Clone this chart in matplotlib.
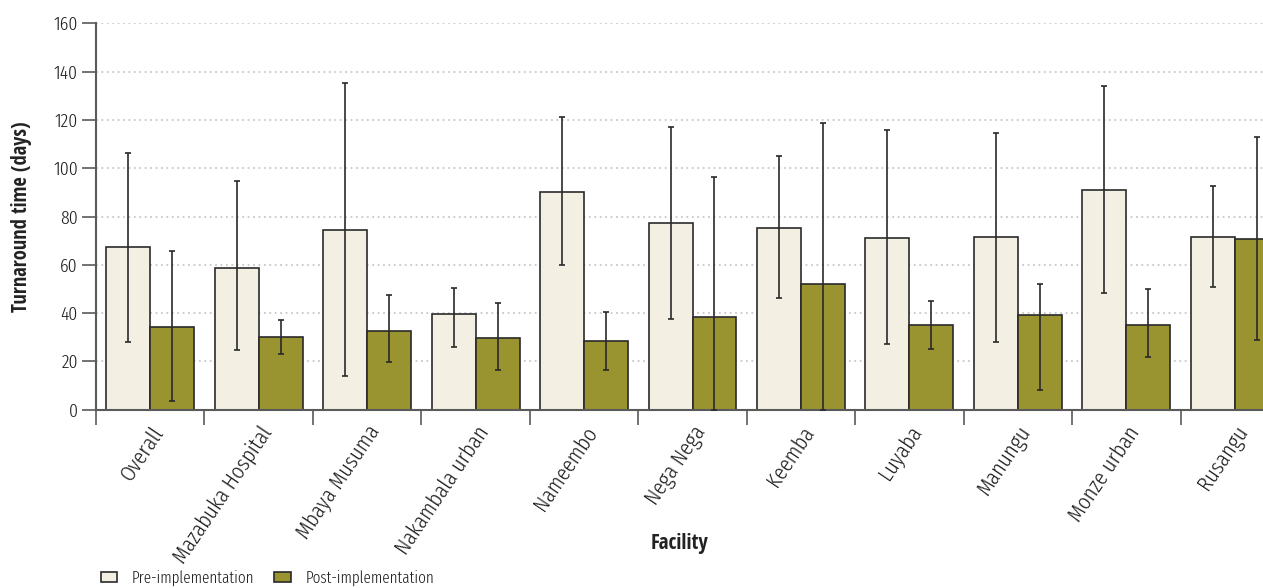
import matplotlib
matplotlib.use("Agg")
import matplotlib.pyplot as plt
from matplotlib.patches import Patch
from matplotlib import font_manager
from matplotlib.textpath import TextPath
from matplotlib.font_manager import FontProperties
import numpy as np

facilities = ["Overall", "Mazabuka Hospital", "Mbaya Musuma", "Nakambala urban",
              "Nameembo", "Nega Nega", "Keemba", "Luyaba", "Manungu",
              "Monze urban", "Rusangu"]
pre_mean = [67.2, 58.8, 74.4, 39.8, 90.3, 77.2, 75.4, 71.1, 71.5, 90.9, 71.5]
pre_upper = [106.5, 94.6, 135.4, 50.4, 121.1, 117.2, 104.9, 115.9, 114.6, 134.0, 92.8]
pre_lower = [28.2, 24.7, 14.0, 26.0, 60.0, 37.7, 46.3, 27.1, 28.0, 48.4, 50.8]
post_mean = [34.4, 30.0, 32.6, 29.6, 28.3, 38.4, 51.9, 34.9, 39.3, 35.2, 70.5]
post_upper = [65.8, 37.3, 47.5, 44.3, 40.6, 96.5, 118.8, 45.0, 51.9, 50.1, 112.9]
post_lower = [3.8, 23.2, 19.6, 16.6, 16.6, 0.0, 0.0, 25.3, 8.3, 21.9, 28.9]
yticks = [0, 20, 40, 60, 80, 100, 120, 140, 160]
legend_labels = ["Pre-implementation", "Post-implementation"]

# ---- font selection ----
fonts = font_manager.fontManager.ttflist
def weights(fam):
    out = set()
    for f in fonts:
        if f.name == fam:
            w = f.weight
            if isinstance(w, str):
                w = font_manager.weight_dict.get(w, 400)
            out.add(w)
    return out

light_fam, light_w = None, None
for fam in ['Open Sans Condensed', 'Fira Sans Extra Condensed', 'Fira Sans Condensed',
            'Sofia Sans Condensed', 'Encode Sans Condensed', 'Barlow Semi Condensed']:
    ws = weights(fam)
    lw = [w for w in ws if 300 <= w <= 350]
    if lw:
        light_fam, light_w = fam, min(lw)
        break
if light_fam is None:
    light_fam, light_w = 'PT Sans Narrow', 400

bold_fam = 'Open Sans Condensed' if any(w >= 600 for w in weights('Open Sans Condensed')) else 'PT Sans Narrow'
LF = [light_fam, 'DejaVu Sans']
BF = [bold_fam, 'DejaVu Sans']

pre_color = "#F3F0E3"
post_color = "#9A9430"
edge = "#2a2a2a"
axis_color = "#5a5a5a"
text_color = "#1e1e1e"

W, H = 1263, 588
fig = plt.figure(figsize=(W / 100, H / 100), dpi=100)
renderer = fig.canvas.get_renderer()

def fit_size(s, target_px, family, weight):
    t = fig.text(0, 0, s, fontsize=10, family=family, weight=weight)
    w = t.get_window_extent(renderer).width
    t.remove()
    return 10 * target_px / w

def fit_height(s, target_px, family, weight):
    fp = FontProperties(family=family, weight=weight, size=10)
    p = TextPath((0, 0), s, prop=fp)
    ext = p.get_extents()
    h_px = ext.height * 100 / 72
    return 10 * target_px / h_px

tick_fs = fit_size("Mazabuka Hospital", 160, LF, light_w)
ytick_fs = fit_height("160", 13.3, LF, light_w)
leg_fs = fit_size("Pre-implementation", 122, LF, light_w)
ylab_fs = fit_size("Turnaround time (days)", 191, BF, 'bold')
xlab_fs = fit_size("Facility", 58, BF, 'bold')

left = 96 / W
bottom = 1 - 409.7 / H
top = 1 - 23.3 / H
right = 1289 / W
ax = fig.add_axes([left, bottom, right - left, top - bottom])

x = np.arange(len(facilities))
bw = 0.405
pre_err = [np.array(pre_mean) - np.array(pre_lower), np.array(pre_upper) - np.array(pre_mean)]
post_err = [np.array(post_mean) - np.array(post_lower), np.array(post_upper) - np.array(post_mean)]

ax.bar(x - bw / 2, pre_mean, width=bw, color=pre_color, edgecolor=edge, linewidth=1.2, zorder=2)
ax.bar(x + bw / 2, post_mean, width=bw, color=post_color, edgecolor=edge, linewidth=1.2, zorder=2)
ax.errorbar(x - bw / 2, pre_mean, yerr=pre_err, fmt='none', ecolor=edge, elinewidth=1.2,
            capsize=2.2, capthick=1.2, zorder=3)
ax.errorbar(x + bw / 2, post_mean, yerr=post_err, fmt='none', ecolor=edge, elinewidth=1.2,
            capsize=2.2, capthick=1.2, zorder=3)

ax.set_xlim(-0.5, len(facilities) - 0.5)
ax.set_ylim(0, 160)
ax.set_yticks(yticks)
ax.set_yticklabels([str(t) for t in yticks], family=LF, weight=light_w, fontsize=ytick_fs,
                   color=text_color)
for t in yticks[1:]:
    ax.axhline(t, color="#c8c8c8", linestyle=(0, (1, 2)), linewidth=1.3, zorder=1)

ax.set_xticks(np.arange(len(facilities) + 1) - 0.5)
ax.set_xticklabels([])
ax.set_xticks(x, minor=True)
ax.set_xticklabels(facilities, minor=True, rotation=56, ha='right',
                   rotation_mode='anchor', fontsize=tick_fs, color=text_color,
                   family=LF, weight=light_w)
ax.tick_params(axis='x', which='minor', length=0, pad=9)
ax.tick_params(axis='x', which='major', length=11, width=1.2, color=axis_color, direction='out')
ax.tick_params(axis='y', length=10, width=1.2, color=axis_color, direction='out', pad=3)

for s in ['top', 'right']:
    ax.spines[s].set_visible(False)
for s in ['left', 'bottom']:
    ax.spines[s].set_color(axis_color)
    ax.spines[s].set_linewidth(1.5)
ax.set_axisbelow(True)

fig.text(22 / W, 1 - 217 / H, "Turnaround time (days)", rotation=90, ha='center', va='center',
         fontsize=ylab_fs, fontweight='bold', family=BF, color="#222222")
fig.text(680 / W, 1 - 543 / H, "Facility", ha='center', va='center',
         fontsize=xlab_fs, fontweight='bold', family=BF, color="#222222")

handles = [Patch(facecolor=pre_color, edgecolor=edge, linewidth=1.2),
           Patch(facecolor=post_color, edgecolor=edge, linewidth=1.2)]
fig.legend(handles, legend_labels, loc='center left', bbox_to_anchor=(101 / W, 1 - 578 / H),
           ncol=2, frameon=False, handlelength=1.0, handleheight=0.5,
           handletextpad=0.9, columnspacing=1.2, labelcolor=text_color, borderaxespad=0,
           borderpad=0, prop={'family': LF, 'weight': light_w, 'size': leg_fs})

fig.savefig("out.png", dpi=100)
